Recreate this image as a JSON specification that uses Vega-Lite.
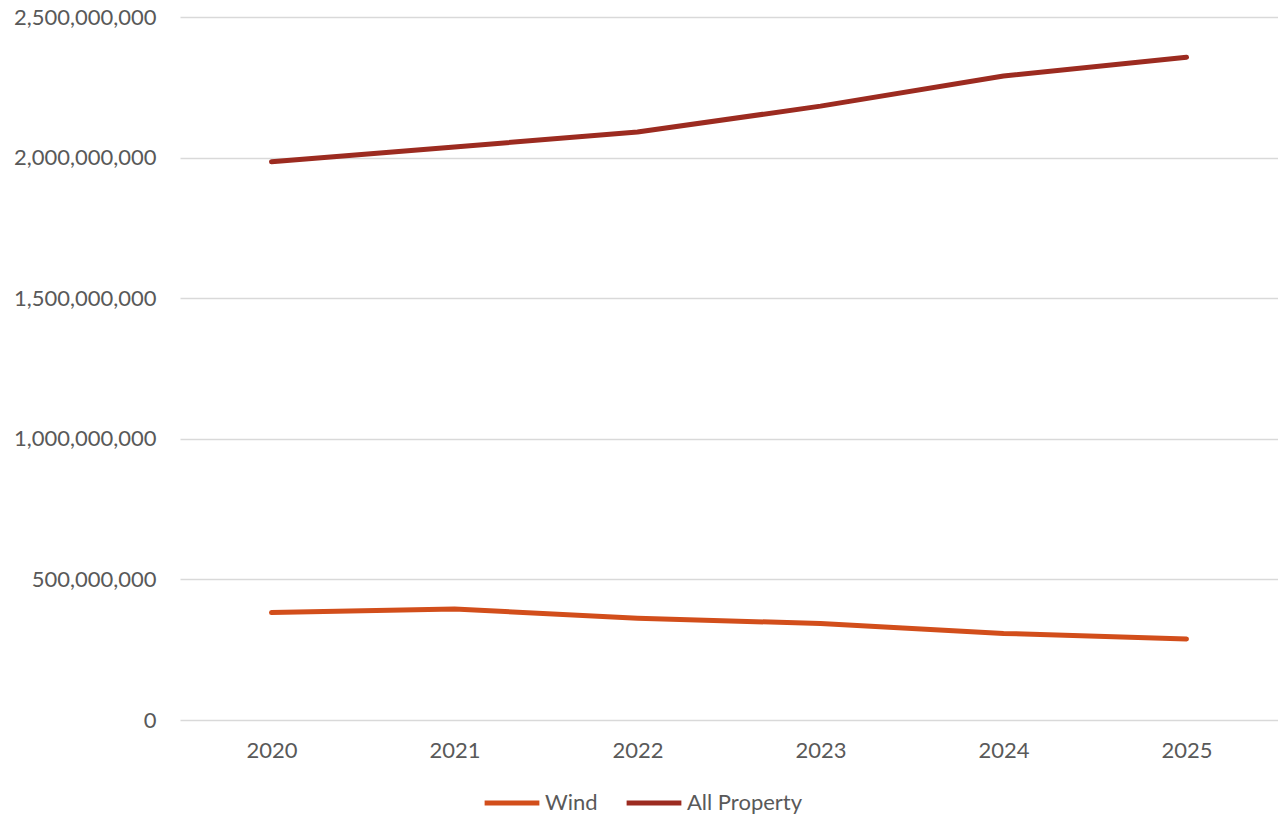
{
  "$schema": "https://vega.github.io/schema/vega-lite/v6.json",
  "width": 1278,
  "height": 817,
  "autosize": {"type": "fit", "contains": "padding"},
  "padding": {"left": 13, "top": 6, "right": 0, "bottom": 56},
  "background": "white",
  "config": {
    "font": "Lato",
    "view": {"stroke": null},
    "axis": {
      "labelFont": "Lato",
      "labelFontSize": 22,
      "labelColor": "#595959",
      "ticks": false,
      "domain": false,
      "gridColor": "#d9d9d9",
      "gridWidth": 1.5,
      "labelOverlap": false,
      "title": null
    },
    "legend": {
      "labelFont": "Lato",
      "labelFontSize": 22,
      "labelColor": "#595959"
    }
  },
  "data": {
    "values": [
      {"year": "2020", "series": "Wind", "value": 382000000},
      {"year": "2021", "series": "Wind", "value": 395000000},
      {"year": "2022", "series": "Wind", "value": 362000000},
      {"year": "2023", "series": "Wind", "value": 343000000},
      {"year": "2024", "series": "Wind", "value": 308000000},
      {"year": "2025", "series": "Wind", "value": 288000000},
      {"year": "2020", "series": "All Property", "value": 1985000000},
      {"year": "2021", "series": "All Property", "value": 2038000000},
      {"year": "2022", "series": "All Property", "value": 2091000000},
      {"year": "2023", "series": "All Property", "value": 2183000000},
      {"year": "2024", "series": "All Property", "value": 2290000000},
      {"year": "2025", "series": "All Property", "value": 2357000000}
    ]
  },
  "mark": {"type": "line", "strokeWidth": 5, "strokeCap": "round", "strokeJoin": "round"},
  "encoding": {
    "x": {
      "field": "year",
      "type": "ordinal",
      "scale": {"type": "point", "padding": 0.5},
      "axis": {"labelAngle": 0, "grid": false, "labelPadding": 20}
    },
    "y": {
      "field": "value",
      "type": "quantitative",
      "scale": {"domain": [0, 2500000000]},
      "axis": {"format": ",d", "values": [0, 500000000, 1000000000, 1500000000, 2000000000, 2500000000], "labelPadding": 24}
    },
    "color": {
      "field": "series",
      "type": "nominal",
      "scale": {"domain": ["Wind", "All Property"], "range": ["#d24e1b", "#9c2b20"]},
      "legend": {
        "title": null,
        "orient": "none",
        "legendX": 302,
        "legendY": 756,
        "direction": "horizontal",
        "symbolType": "stroke",
        "symbolSize": 3000,
        "symbolStrokeWidth": 5,
        "labelOffset": 3,
        "columnPadding": 18
      }
    }
  }
}
